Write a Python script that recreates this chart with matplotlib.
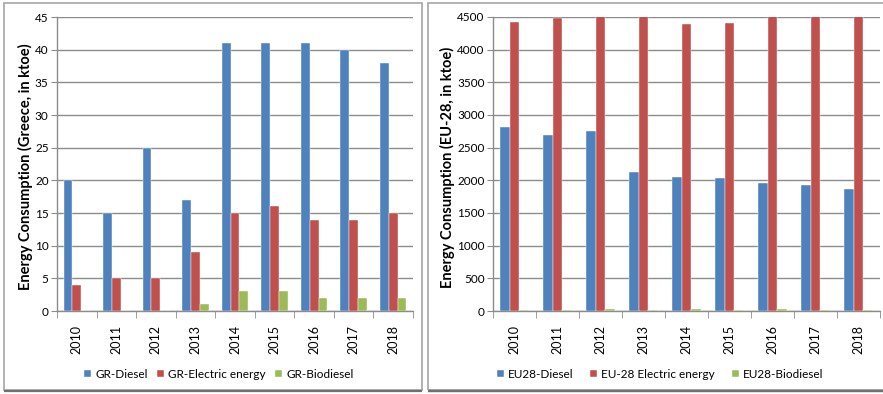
import matplotlib
matplotlib.use("Agg")
import matplotlib.pyplot as plt
from matplotlib.patches import Rectangle
import numpy as np

years = ["2010", "2011", "2012", "2013", "2014", "2015", "2016", "2017", "2018"]

# Greece (ktoe)
gr_diesel = [20, 15, 25, 17, 41, 41, 41, 40, 38]
gr_electric = [4, 5, 5, 9, 15, 16, 14, 14, 15]
gr_biodiesel = [0, 0, 0, 1, 3, 3, 2, 2, 2]
gr_labels = ["GR-Diesel", "GR-Electric energy", "GR-Biodiesel"]

# EU-28 (ktoe)
eu_diesel = [2820, 2700, 2750, 2130, 2045, 2040, 1965, 1935, 1875]
eu_electric = [4420, 4480, 4560, 4610, 4400, 4410, 4590, 4620, 4650]
eu_biodiesel = [20, 20, 30, 20, 30, 20, 30, 20, 20]
eu_labels = ["EU28-Diesel", "EU-28 Electric energy", "EU28-Biodiesel"]

colors = ["#4F81BD", "#C0504D", "#9BBB59"]
grid_col = "#8C8C8C"

plt.rcParams["font.family"] = ["Lato", "DejaVu Sans"]

W, H = 883, 394
fig = plt.figure(figsize=(W / 100, H / 100), dpi=100)


def px_box(x0, y0, x1, y1):
    # pixel box (top-left origin) -> figure fraction [left, bottom, width, height]
    return [x0 / W, 1 - y1 / H, (x1 - x0) / W, (y1 - y0) / H]


# chart frames
for x0, x1 in [(4, 422), (428, 900)]:
    fig.patches.append(Rectangle((x0 / W, 1 - 390 / H), (x1 - x0) / W, 387 / H,
                                 transform=fig.transFigure, fill=False,
                                 edgecolor="#A6A6A6", linewidth=1.2))
    fig.patches.append(Rectangle((x0 / W, 1 - 391 / H), (x1 - x0) / W, 0.5 / H,
                                 transform=fig.transFigure, fill=False,
                                 edgecolor="#707070", linewidth=1.6))


def draw_panel(box, series, labels, ymax, ystep, ylabel, label_x, leg_x, colspace):
    ax = fig.add_axes(px_box(*box))
    x = np.arange(len(years))
    w = 1 / 4.5
    for k, (vals, lab, c) in enumerate(zip(series, labels, colors)):
        ax.bar(x + (k - 1) * w, vals, width=w, color=c, label=lab,
               edgecolor="white", linewidth=0.3, zorder=3)
    ax.set_xlim(-0.5, len(years) - 0.5)
    ax.set_ylim(0, ymax)
    ax.set_yticks(np.arange(0, ymax + ystep, ystep))
    ax.yaxis.grid(True, color=grid_col, linewidth=1.0, zorder=0)
    ax.set_axisbelow(True)
    for s in ["top", "right"]:
        ax.spines[s].set_visible(False)
    for s in ["left", "bottom"]:
        ax.spines[s].set_color(grid_col)
        ax.spines[s].set_linewidth(1.0)
    ax.set_xticks(x)
    ax.set_xticklabels(years, rotation=90, fontsize=9)
    ax.tick_params(axis="x", length=0, pad=10)
    ax.set_xticks(np.arange(-0.5, len(years)), minor=True)
    ax.tick_params(axis="x", which="minor", length=5, color=grid_col)
    ax.tick_params(axis="y", length=4, color=grid_col, labelsize=8.5, pad=2)
    fig.text(label_x / W, 1 - 167 / H, ylabel, rotation=90, ha="center",
             va="center", fontsize=10.5, fontweight="bold")
    handles, labs = ax.get_legend_handles_labels()
    fig.legend(handles, labs, loc="center", bbox_to_anchor=(leg_x / W, 1 - 374 / H),
               ncol=3, frameon=False, fontsize=8.5, handlelength=0.6,
               handleheight=0.6, handletextpad=0.35, columnspacing=colspace,
               borderpad=0, borderaxespad=0)
    return ax


draw_panel((57, 17, 413, 311), [gr_diesel, gr_electric, gr_biodiesel], gr_labels,
           45, 5, "Energy Consumption (Greece, in ktoe)", 25, 219, 0.8)
draw_panel((493, 17, 880, 311), [eu_diesel, eu_electric, eu_biodiesel], eu_labels,
           4500, 500, "Energy Consumption (EU-28, in ktoe)", 447, 660, 1.4)

fig.savefig("out.png", dpi=100)
